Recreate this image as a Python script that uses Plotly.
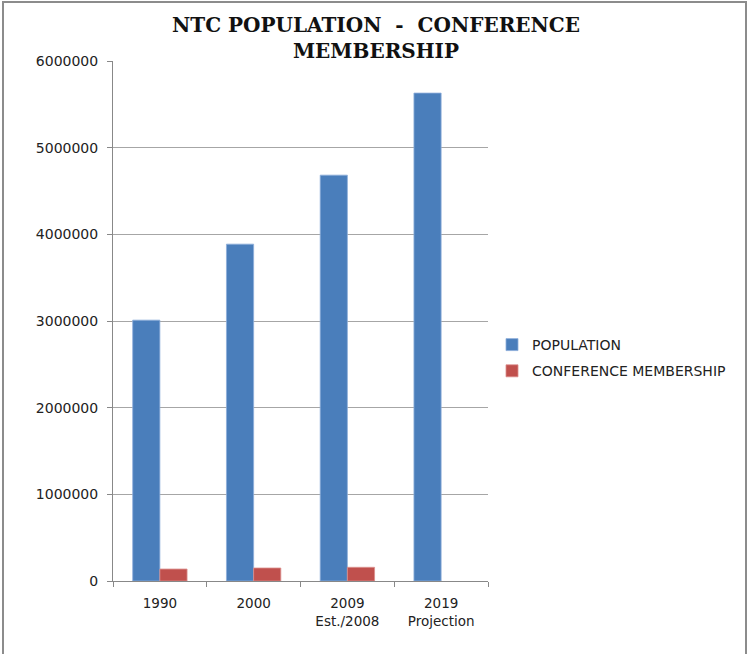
import plotly.graph_objects as go

categories = ["1990", "2000", "2009<br>Est./2008", "2019<br>Projection"]
population = [3010000, 3887000, 4683000, 5630000]
membership = [138000, 150000, 158000, None]
y_ticks = [0, 1000000, 2000000, 3000000, 4000000, 5000000, 6000000]

L, R, T, B = 113, 488, 61, 581
W, H = 749, 654
def px(x):
    return (x - L) / (R - L)
def py(y):
    return (B - y) / (B - T)

fig = go.Figure()
fig.add_trace(go.Bar(name="POPULATION", x=categories, y=population, legendgroup="a",
                     marker=dict(color="#4A7EBB", line=dict(color="#8EAEDA", width=0.8))))
fig.add_trace(go.Bar(name="CONFERENCE MEMBERSHIP", x=categories, y=membership, legendgroup="b",
                     marker=dict(color="#C0504D", line=dict(color="#DA8E8C", width=0.8))))

fig.update_layout(
    width=W, height=H,
    margin=dict(l=L, r=W - R, t=T, b=H - B, autoexpand=False),
    paper_bgcolor="white", plot_bgcolor="white",
    barmode="group", bargap=0.42, bargroupgap=0,
    font=dict(family="DejaVu Sans", size=13.5, color="#222222"),
    title=dict(text="<b>NTC POPULATION  -  CONFERENCE<br>MEMBERSHIP</b>",
               font=dict(family="DejaVu Serif", size=20, color="#111111"),
               x=px(376), xref="paper", xanchor="center",
               y=1 - 32 / H, yref="container", yanchor="middle"),
    legend=dict(x=px(492), y=py(358), xanchor="left", yanchor="middle",
                font=dict(family="DejaVu Sans", size=14, color="#222222"),
                traceorder="grouped", tracegroupgap=5, itemwidth=30,
                bgcolor="rgba(0,0,0,0)"),
    showlegend=True,
)
fig.update_xaxes(type="category", tickson="boundaries", ticks="outside", ticklen=5,
                 tickcolor="#888888", showline=True, linecolor="#888888", linewidth=1,
                 showgrid=False, ticklabelstandoff=10,
                 tickfont=dict(size=13.5, color="#222222"))
fig.update_yaxes(range=[0, 6000000], tickvals=y_ticks, tickformat="d",
                 ticks="outside", ticklen=5, tickcolor="#888888",
                 showline=True, linecolor="#888888", linewidth=1,
                 showgrid=True, gridcolor="#A6A6A6", gridwidth=1,
                 zeroline=False, ticklabelstandoff=6,
                 tickfont=dict(size=14, color="#222222"))

# outer frame of the chart image
fig.add_shape(type="rect", xref="paper", yref="paper",
              x0=px(3), x1=px(746), y0=py(700), y1=py(2),
              line=dict(color="#8C8C8C", width=2), fillcolor="rgba(0,0,0,0)", layer="below")

fig.write_html("out.html")
